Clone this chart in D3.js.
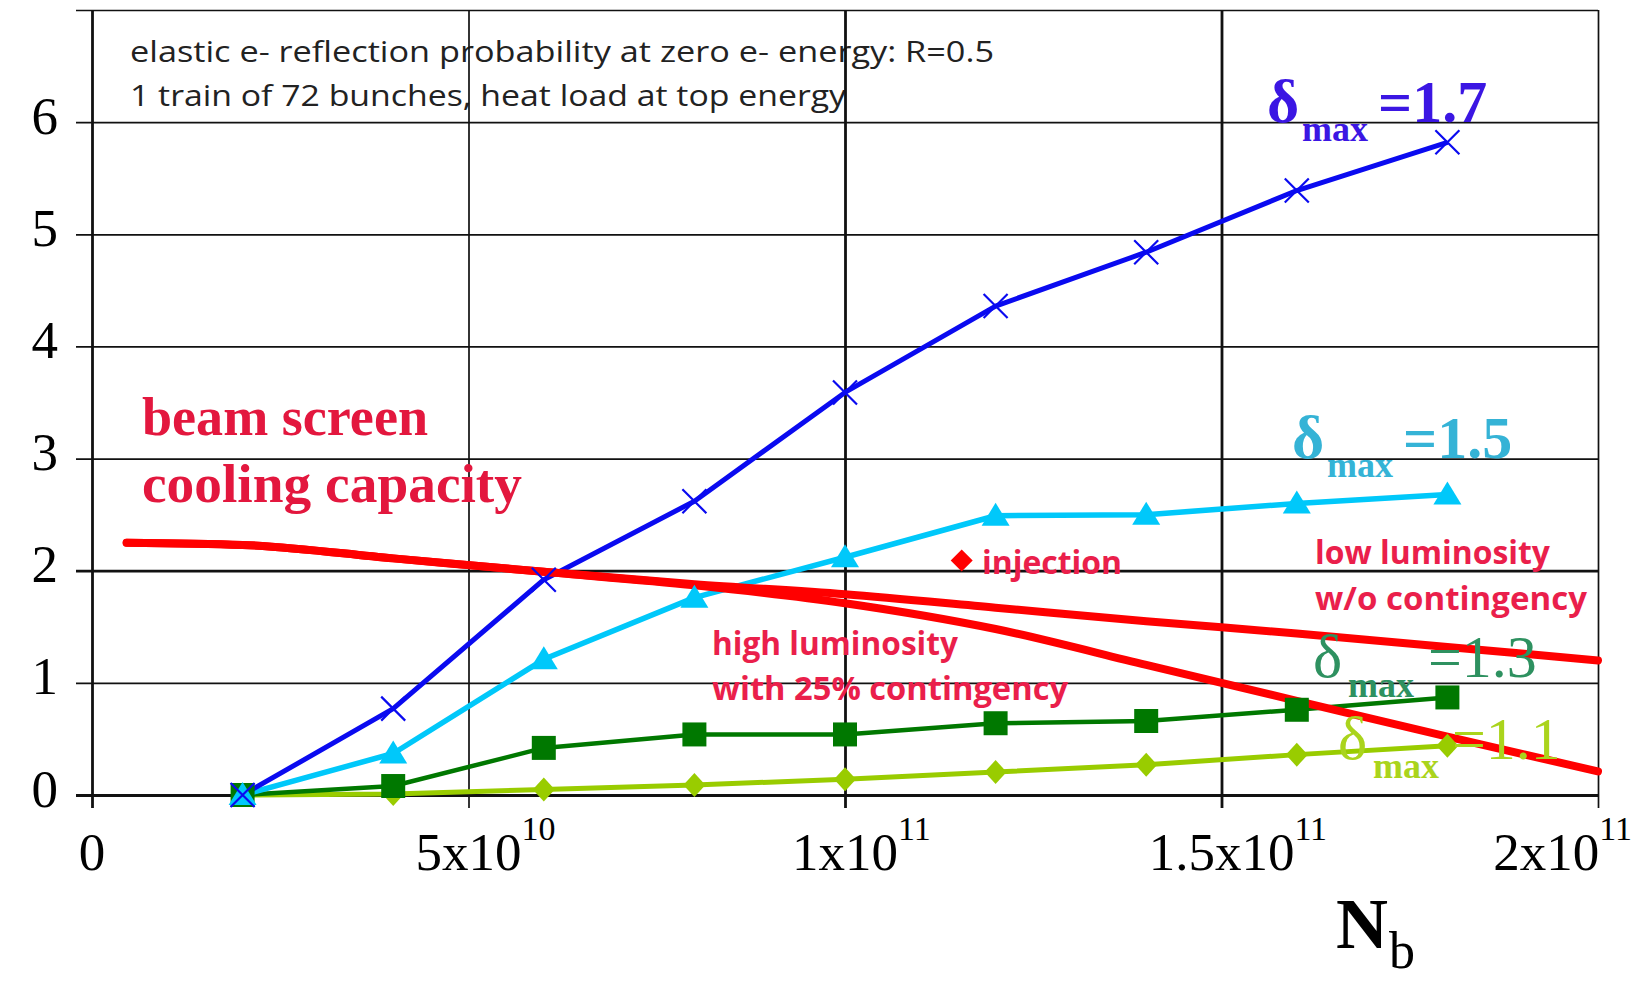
<!DOCTYPE html>
<html>
<head>
<meta charset="utf-8">
<script src="https://cdn.jsdelivr.net/npm/d3@7"></script>
<style>
  html, body { margin: 0; background: #fff; }
  svg { display: block; }
</style>
</head>
<body>
<div id="chart"></div>
<script>
// bunch population N_b of the simulated points
const nb = [2e10, 4e10, 6e10, 8e10, 1e11, 1.2e11, 1.4e11, 1.6e11, 1.8e11];

// heat load for each delta_max
const heat17 = [0, 0.77, 1.92, 2.62, 3.59, 4.36, 4.84, 5.39, 5.82];
const heat15 = [0, 0.37, 1.21, 1.76, 2.12, 2.49, 2.50, 2.60, 2.68];
const heat13 = [0, 0.08, 0.42, 0.54, 0.54, 0.64, 0.66, 0.76, 0.87];
const heat11 = [0, 0.01, 0.05, 0.09, 0.14, 0.205, 0.27, 0.36, 0.44];

// beam screen cooling capacity
const capNb = [0.46e10, 2e10, 4e10, 6e10, 8e10, 1e11, 1.2e11, 1.4e11, 1.6e11, 1.8e11, 2e11];
const capLowLumi = [2.25, 2.23, 2.11, 1.99, 1.88, 1.79, 1.67, 1.55, 1.44, 1.32, 1.20];
const capHighLumi = [2.25, 2.23, 2.11, 1.99, 1.87, 1.71, 1.48, 1.16, 0.84, 0.52, 0.21];

const injection = [1.155e11, 2.09];

const xTicks = [0, 5e10, 1e11, 1.5e11, 2e11];
const xTickMant = ['0', '5x10', '1x10', '1.5x10', '2x10'];
const xTickExp = ['', '10', '11', '11', '11'];
const yTicks = [0, 1, 2, 3, 4, 5, 6, 7];
const yTickLabels = ['0', '1', '2', '3', '4', '5', '6', ''];

const W = 1640, H = 984;
const margin = {top: 10, right: 42, bottom: 189, left: 92};
const serif = '"Liberation Serif", "Times New Roman", serif';
const sans = '"Open Sans", "Noto Sans", sans-serif';

const svg = d3.select('#chart').append('svg')
    .attr('width', W)
    .attr('height', H);

const x = d3.scaleLinear().domain([0, 2e11]).range([margin.left, W - margin.right]);
const y = d3.scaleLinear().domain([0, 7]).range([H - margin.bottom, margin.top]);

const plotW = x(2e11) - x(0);
const plotH = y(0) - y(7);

// note text, under the grid
svg.append('g')
    .attr('font-family', sans)
    .attr('font-size', 30)
    .attr('fill', '#222')
  .selectAll('text')
  .data([
    {t: 'elastic e- reflection probability at zero e- energy: R=0.5', y: 62, len: 864},
    {t: '1 train of 72 bunches, heat load at top energy', y: 106, len: 716}
  ])
  .join('text')
    .attr('x', 130)
    .attr('y', d => d.y)
    .attr('textLength', d => d.len)
    .attr('lengthAdjust', 'spacingAndGlyphs')
    .text(d => d.t);

// grid + axes
const heavyX = new Set([0, 1e11, 1.5e11]);
const heavyY = new Set([0, 2]);

svg.append('g')
    .attr('transform', `translate(0, ${y(0)})`)
    .call(d3.axisBottom(x).tickValues(xTicks).tickSize(13).tickFormat(''))
    .call(g => g.select('.domain').remove())
    .call(g => g.selectAll('.tick line')
        .attr('y1', -plotH)
        .attr('stroke', '#111')
        .attr('stroke-width', d => heavyX.has(d) ? 2.8 : 1.7));

svg.append('g')
    .attr('transform', `translate(${x(0)}, 0)`)
    .call(d3.axisLeft(y).tickValues(yTicks).tickSize(16).tickPadding(18)
        .tickFormat((d, i) => yTickLabels[i]))
    .call(g => g.select('.domain').remove())
    .call(g => g.selectAll('.tick line')
        .attr('x1', -16)
        .attr('x2', plotW)
        .attr('stroke', '#111')
        .attr('stroke-width', d => heavyY.has(d) ? 2.8 : 1.7))
    .call(g => g.selectAll('.tick text')
        .attr('font-family', serif)
        .attr('font-size', 53)
        .attr('fill', '#000')
        .attr('dy', 11));

// x tick labels with exponents
const xl = svg.append('g')
    .attr('font-family', serif)
    .attr('fill', '#000')
  .selectAll('text')
  .data(xTicks)
  .join('text')
    .attr('y', 870)
    .attr('font-size', 53);
xl.append('tspan').attr('class', 'mant').text((d, i) => xTickMant[i]);
xl.append('tspan')
    .attr('font-size', 34)
    .attr('dy', -30)
    .text((d, i) => xTickExp[i]);
xl.each(function(d) {
  const t = d3.select(this);
  const mw = t.select('.mant').node().getComputedTextLength();
  const tw = this.getComputedTextLength();
  let x0 = x(d) - mw / 2;
  if (x0 + tw > W - 8) x0 = W - 8 - tw;
  t.attr('x', x0);
});

// series
const series = [
  {values: heat11, color: '#99cc00', width: 5, marker: 'M0,-12L11,0L0,12L-11,0Z'},
  {values: heat13, color: '#007800', width: 4.5, marker: 'M-12,-12H12V12H-12Z'},
  {values: heat15, color: '#00c8fa', width: 5.5, marker: 'M0,-13L14,10H-14Z'},
  {values: heat17, color: '#0a0af0', width: 5, marker: 'M-12,-12L12,12M-12,12L12,-12', stroked: true}
];

const line = d3.line()
    .x((d, i) => x(nb[i]))
    .y(d => y(d));

svg.append('g')
    .attr('fill', 'none')
  .selectAll('path')
  .data(series)
  .join('path')
    .attr('d', d => line(d.values))
    .attr('stroke', d => d.color)
    .attr('stroke-width', d => d.width)
    .attr('stroke-linejoin', 'round');

// cooling capacity lines
const capLine = d3.line()
    .x((d, i) => x(capNb[i]))
    .y(d => y(d))
    .curve(d3.curveMonotoneX);

svg.append('g')
    .attr('fill', 'none')
  .selectAll('path')
  .data([capLowLumi, capHighLumi])
  .join('path')
    .attr('d', capLine)
    .attr('stroke', '#ff0000')
    .attr('stroke-width', 8)
    .attr('stroke-linecap', 'round')
    .attr('stroke-linejoin', 'round');

// markers
series.forEach(s => {
  svg.append('g')
    .selectAll('path')
    .data(s.values)
    .join('path')
      .attr('transform', (d, i) => `translate(${x(nb[i])}, ${y(d)})`)
      .attr('d', s.marker)
      .attr('fill', s.stroked ? 'none' : s.color)
      .attr('stroke', s.stroked ? s.color : 'none')
      .attr('stroke-width', 2.2);
});

// injection point
svg.append('path')
    .attr('transform', `translate(${x(injection[0])}, ${y(injection[1])})`)
    .attr('d', 'M0,-11L11,0L0,11L-11,0Z')
    .attr('fill', '#ff0000');

// red annotations
svg.append('g')
    .attr('font-family', sans)
    .attr('font-weight', 700)
    .attr('font-size', 32)
    .attr('fill', '#ea1f4b')
  .selectAll('text')
  .data([
    {t: 'injection', x: 982, y: 574, len: 140},
    {t: 'high luminosity', x: 712, y: 655, len: 246},
    {t: 'with 25% contingency', x: 712, y: 700, len: 356},
    {t: 'low luminosity', x: 1315, y: 564, len: 235},
    {t: 'w/o contingency', x: 1315, y: 610, len: 272}
  ])
  .join('text')
    .attr('x', d => d.x)
    .attr('y', d => d.y)
    .attr('textLength', d => d.len)
    .attr('lengthAdjust', 'spacingAndGlyphs')
    .text(d => d.t);

svg.append('g')
    .attr('font-family', serif)
    .attr('font-weight', 700)
    .attr('font-size', 54)
    .attr('fill', '#e3173e')
  .selectAll('text')
  .data([
    {t: 'beam screen', y: 435, len: 286},
    {t: 'cooling capacity', y: 502, len: 380}
  ])
  .join('text')
    .attr('x', 142)
    .attr('y', d => d.y)
    .attr('textLength', d => d.len)
    .attr('lengthAdjust', 'spacingAndGlyphs')
    .text(d => d.t);

// delta_max labels
const deltaLabels = [
  {v: '=1.7', color: '#3b16e3', bold: true, x: 1267, y: 122, xs: 1302, ys: 141, xv: 1378},
  {v: '=1.5', color: '#35b3d6', bold: true, x: 1292, y: 458, xs: 1327, ys: 477, xv: 1403},
  {v: '=1.3', color: '#2e9160', bold: false, x: 1313, y: 677, xs: 1348, ys: 697, xv: 1428},
  {v: '=1.1', color: '#aad41c', bold: false, x: 1338, y: 759, xs: 1373, ys: 778, xv: 1452}
];

const dl = svg.append('g')
    .attr('font-family', serif)
  .selectAll('g')
  .data(deltaLabels)
  .join('g')
    .attr('fill', d => d.color);
dl.append('text')
    .attr('x', d => d.x).attr('y', d => d.y)
    .attr('font-size', 62)
    .attr('font-weight', d => d.bold ? 700 : 400)
    .text('δ');
dl.append('text')
    .attr('x', d => d.xs).attr('y', d => d.ys)
    .attr('font-size', 36)
    .attr('font-weight', 700)
    .text('max');
dl.append('text')
    .attr('x', d => d.xv).attr('y', d => d.y)
    .attr('font-size', 60)
    .attr('font-weight', d => d.bold ? 700 : 400)
    .text(d => d.v);

// axis title N_b
const nt = svg.append('g').attr('font-family', serif).attr('fill', '#000');
nt.append('text').attr('x', 1336).attr('y', 948)
    .attr('font-size', 72).attr('font-weight', 700).text('N');
nt.append('text').attr('x', 1389).attr('y', 968)
    .attr('font-size', 52).text('b');
</script>
</body>
</html>
